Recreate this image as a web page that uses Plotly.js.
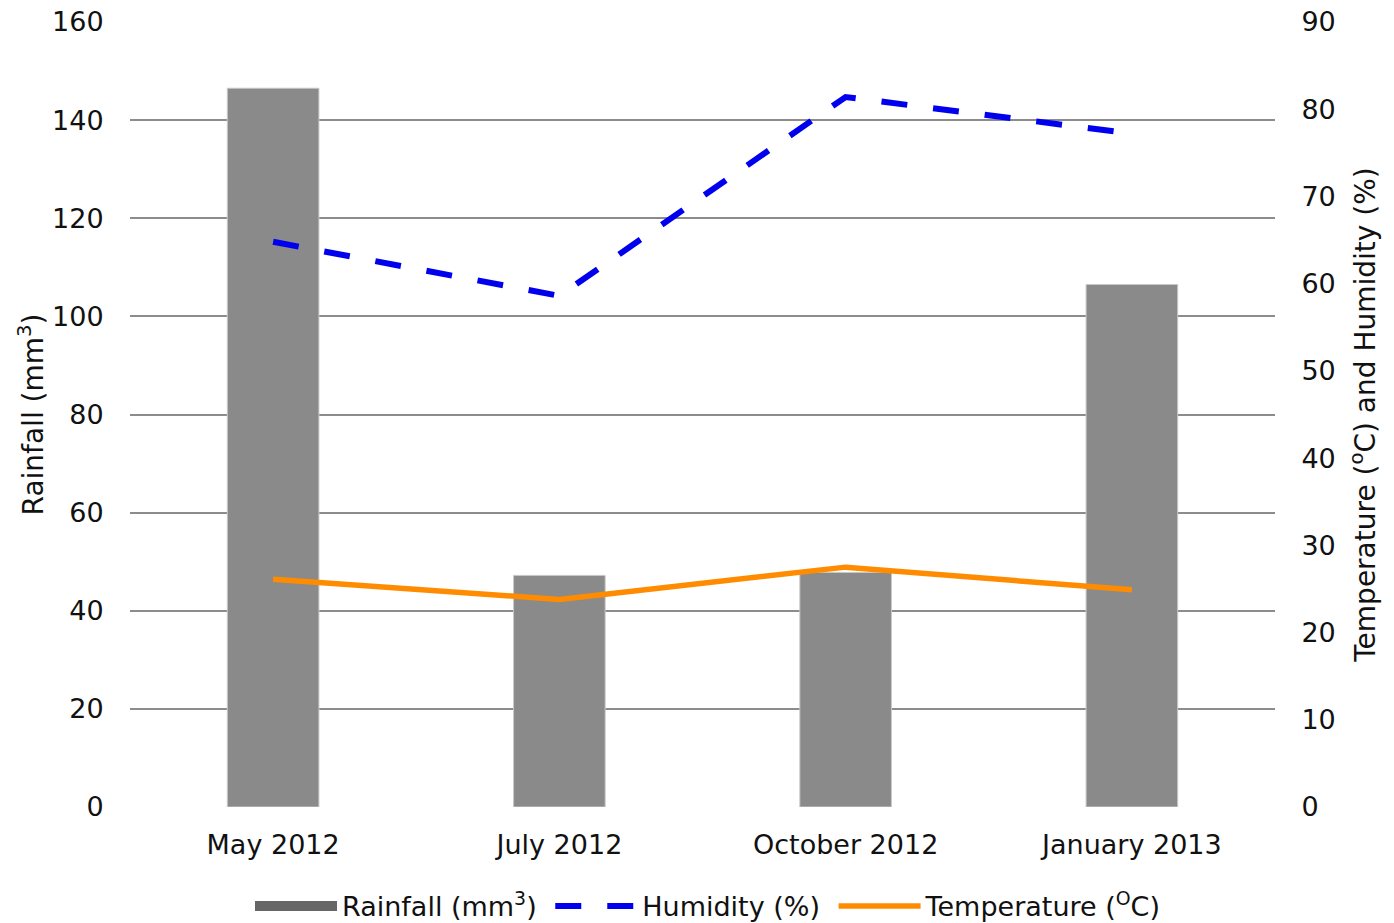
<!DOCTYPE html>
<html>
<head>
<meta charset="utf-8">
<script src="https://cdn.plot.ly/plotly-3.0.1.min.js"></script>
<style>html,body{margin:0;padding:0;background:#fff;}#chart{width:1394px;height:923px;}</style>
</head>
<body>
<div id="chart"></div>
<script>
const categories = ["May 2012", "July 2012", "October 2012", "January 2013"];
const rainfall = [146.5, 47.2, 47.8, 106.5];
const humidity = [64.8, 58.6, 81.4, 77.2];
const temperature = [26.1, 23.8, 27.5, 24.9];
const leftTicks = [0, 20, 40, 60, 80, 100, 120, 140, 160];
const rightTicks = [0, 10, 20, 30, 40, 50, 60, 70, 80, 90];

const font = "DejaVu Sans, Verdana, sans-serif";
const NB = "\u00a0";

const traces = [
  {
    type: "bar", x: categories, y: rainfall, name: "Rainfall (mm<sup>3</sup>)",
    marker: {color: "#8a8a8a", line: {color: "#c8c8c8", width: 1}},
    width: 0.32, yaxis: "y", showlegend: false
  },
  {
    // legend entry only (wide box symbol, as in the reference legend)
    type: "scatter", mode: "lines", x: [null], y: [null], name: "Rainfall (mm<sup>3</sup>)" + NB,
    line: {color: "#666666", width: 22}, yaxis: "y", hoverinfo: "skip"
  },
  {
    type: "scatter", mode: "lines", x: categories, y: humidity, name: "Humidity (%)" + NB,
    line: {color: "#0000ee", width: 6, dash: "26px,26px"}, yaxis: "y2"
  },
  {
    type: "scatter", mode: "lines", x: categories, y: temperature, name: "Temperature (<sup>O</sup>C)",
    line: {color: "#ff8c00", width: 5.5}, yaxis: "y2"
  }
];

const layout = {
  width: 1394, height: 923,
  margin: {l: 130, r: 119, t: 22, b: 116},
  paper_bgcolor: "#fff", plot_bgcolor: "#fff",
  font: {family: font, size: 27, color: "#111"},
  showlegend: true,
  legend: {orientation: "h", x: 250 / 1394, xref: "container", xanchor: "left",
           y: 0.018, yref: "container", yanchor: "middle",
           font: {family: font, size: 27, color: "#111"}, itemwidth: 82, tracegroupgap: 0},
  xaxis: {
    type: "category", showgrid: false, zeroline: false, showline: false,
    ticks: "outside", ticklen: 14, tickcolor: "rgba(0,0,0,0)",
    tickfont: {family: font, size: 27, color: "#111"}
  },
  yaxis: {
    range: [0, 160], tickvals: leftTicks, ticktext: leftTicks.map(String),
    showgrid: true, gridcolor: "#8c8c8c", gridwidth: 2, zeroline: false, showline: false,
    ticks: "outside", ticklen: 20, tickcolor: "rgba(0,0,0,0)",
    tickfont: {family: font, size: 27, color: "#111"},
    title: {text: "Rainfall (mm<sup>3</sup>)", font: {family: font, size: 28, color: "#111"}, standoff: 0}
  },
  yaxis2: {
    range: [0, 90], tickvals: rightTicks, ticktext: rightTicks.map(String),
    overlaying: "y", side: "right", showgrid: false, zeroline: false, showline: false,
    ticks: "outside", ticklen: 20, tickcolor: "rgba(0,0,0,0)",
    tickfont: {family: font, size: 27, color: "#111"},
    title: {text: "Temperature (<sup>o</sup>C) and Humidity (%)", font: {family: font, size: 28, color: "#111"}, standoff: 20}
  }
};

Plotly.newPlot("chart", traces, layout, {displayModeBar: false, staticPlot: true});
</script>
</body>
</html>
